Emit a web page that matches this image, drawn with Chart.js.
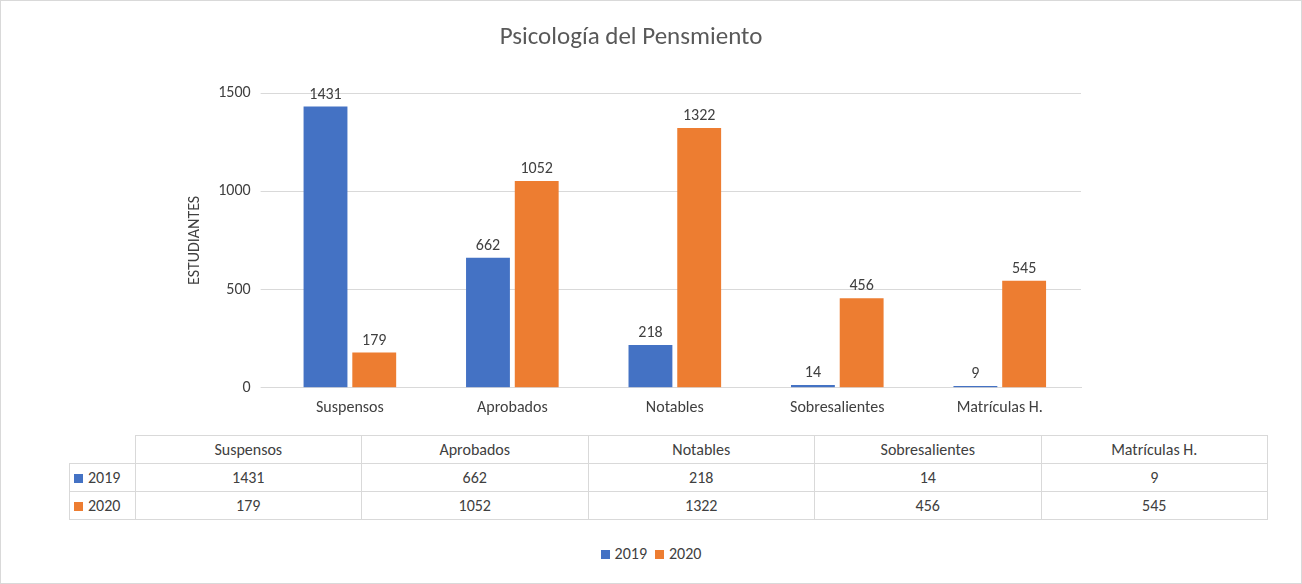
<!DOCTYPE html>
<html>
<head>
  <title>Psicología del Pensmiento</title>
  <script src="https://cdn.jsdelivr.net/npm/chart.js"></script>
  <style>
    body { margin: 0; background: #fff; font-family: Calibri, Carlito, "Liberation Sans", sans-serif; }
    #wrap { position: relative; width: 1300px; height: 582px; border: 1px solid #d9d9d9; }
    #chartBox { position: absolute; left: 0; top: 0; width: 1300px; height: 430px; }
    table { position: absolute; left: 68px; top: 434px; width: 1199px; table-layout: fixed; border-collapse: collapse; font-size: 16px; color: #404040; }
    td { border: 1px solid #d9d9d9; text-align: center; height: 27px; padding: 0; }
    td.head { text-align: left; padding-left: 4px; width: 61px; white-space: nowrap; }
    .key { display: inline-block; width: 9px; height: 9px; margin-right: 5px; }
    #legend { position: absolute; top: 543px; left: 0; width: 1300px; text-align: center; font-size: 16px; color: #404040; }
    #legend span.item { margin: 0 4px; }
  </style>
</head>
<body>
<div id="wrap">
  <div id="chartBox"><canvas id="myChart"></canvas></div>
  <table id="tbl"></table>
  <div id="legend"></div>
</div>
<script>
  var categories = ['Suspensos', 'Aprobados', 'Notables', 'Sobresalientes', 'Matrículas H.'];
  var series2019 = [1431, 662, 218, 14, 9];
  var series2020 = [179, 1052, 1322, 456, 545];
  var yTicks = [0, 500, 1000, 1500];
  var colors = { '2019': '#4472c4', '2020': '#ed7d31' };
  var fontFam = 'Calibri, Carlito, "Liberation Sans", sans-serif';

  // data table below the chart
  var tbl = document.getElementById('tbl');
  var html = '<tr><td class="head" style="border-top:none;border-left:none;"></td>' +
    categories.map(function (c) { return '<td>' + c + '</td>'; }).join('') + '</tr>';
  [['2019', series2019], ['2020', series2020]].forEach(function (s) {
    html += '<tr><td class="head"><span class="key" style="background:' + colors[s[0]] + '"></span>' + s[0] + '</td>' +
      s[1].map(function (v) { return '<td>' + v + '</td>'; }).join('') + '</tr>';
  });
  tbl.innerHTML = html;
  document.getElementById('legend').innerHTML = ['2019', '2020'].map(function (k) {
    return '<span class="item"><span class="key" style="background:' + colors[k] + '"></span>' + k + '</span>';
  }).join('');

  var valueLabels = {
    id: 'valueLabels',
    afterDatasetsDraw: function (chart) {
      var ctx = chart.ctx;
      ctx.save();
      ctx.font = '16px ' + fontFam;
      ctx.fillStyle = '#404040';
      ctx.textAlign = 'center';
      ctx.textBaseline = 'bottom';
      chart.data.datasets.forEach(function (ds, i) {
        chart.getDatasetMeta(i).data.forEach(function (bar, j) {
          ctx.fillText(ds.data[j], bar.x, bar.y - 4);
        });
      });
      ctx.restore();
    }
  };

  new Chart(document.getElementById('myChart'), {
    type: 'bar',
    data: {
      labels: categories,
      datasets: [
        { label: '2019', data: series2019, backgroundColor: colors['2019'] },
        { label: '2020', data: series2020, backgroundColor: colors['2020'] }
      ]
    },
    plugins: [valueLabels],
    options: {
      responsive: true,
      maintainAspectRatio: false,
      animation: false,
      layout: { padding: { left: 180, right: 220, top: 10, bottom: 10 } },
      datasets: { bar: { categoryPercentage: 0.6, barPercentage: 0.9 } },
      plugins: {
        legend: { display: false },
        tooltip: { enabled: false },
        title: {
          display: true,
          text: 'Psicología del Pensmiento',
          color: '#595959',
          font: { size: 25, family: fontFam, weight: 'normal' },
          padding: { top: 12, bottom: 40 }
        }
      },
      scales: {
        x: {
          grid: { display: false },
          border: { color: '#d9d9d9' },
          ticks: { color: '#404040', font: { size: 16, family: fontFam } }
        },
        y: {
          min: 0, max: 1500,
          afterBuildTicks: function (axis) { axis.ticks = yTicks.map(function (v) { return { value: v }; }); },
          grid: { color: '#d9d9d9' },
          border: { display: false },
          ticks: { color: '#404040', font: { size: 16, family: fontFam }, padding: 10,
            callback: function (v) { return String(v); } },
          title: { display: true, text: 'ESTUDIANTES', color: '#404040', font: { size: 16, family: fontFam } }
        }
      }
    }
  });
</script>
</body>
</html>
